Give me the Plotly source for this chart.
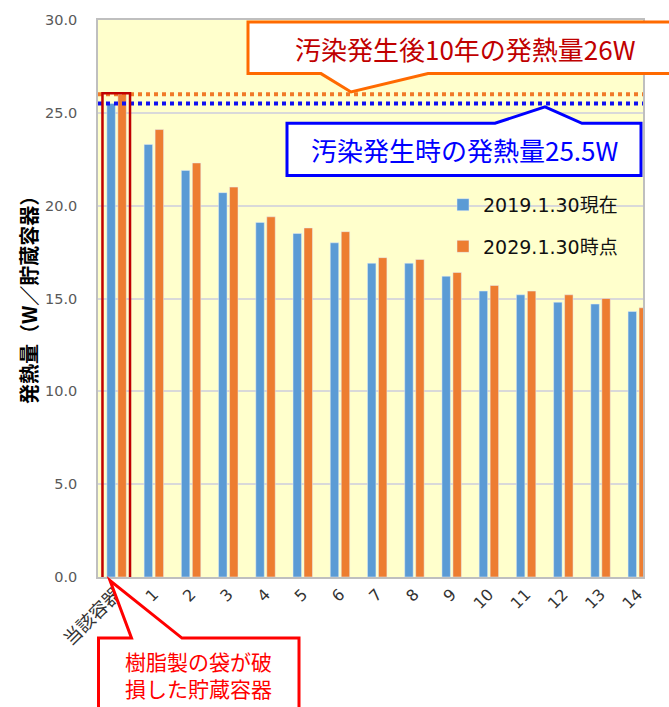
import plotly.graph_objects as go

# ---- data ----
categories = ["当該容器", "1", "2", "3", "4", "5", "6", "7", "8", "9", "10", "11", "12", "13", "14"]
heat_2019 = [25.5, 23.3, 21.9, 20.7, 19.1, 18.5, 18.0, 16.9, 16.9, 16.2, 15.4, 15.2, 14.8, 14.7, 14.3]
heat_2029 = [26.0, 24.1, 22.3, 21.0, 19.4, 18.8, 18.6, 17.2, 17.1, 16.4, 15.7, 15.4, 15.2, 15.0, 14.5]
series_names = ["2019.1.30現在", "2029.1.30時点"]
ref_values = [26.0, 25.5]          # after 10 years / at contamination
ref_labels = ["汚染発生後10年の発熱量26W", "汚染発生時の発熱量25.5W"]
y_ticks = [0, 5, 10, 15, 20, 25, 30]
callout_text = ["樹脂製の袋が破", "損した貯蔵容器"]

# ---- layout geometry (pixels) ----
W, H = 669, 707
L, R, T, B = 98, 643, 16, 577
PW, PH = R - L, B - T
FONT = "Noto Sans CJK JP"
NUMFONT = "DejaVu Sans, Noto Sans CJK JP"


def px(x):
    return (x - L) / PW


def py(y):
    return (B - y) / PH


def path(points):
    s = "M" + " L".join(f"{px(a):.5f},{py(b):.5f}" for a, b in points) + " Z"
    return s


fig = go.Figure()
fig.add_trace(go.Bar(x=categories, y=heat_2019, name=series_names[0],
                     marker=dict(color="#5B9BD5"), legendgroup="a"))
fig.add_trace(go.Bar(x=categories, y=heat_2029, name=series_names[1],
                     marker=dict(color="#ED7D31"), legendgroup="b"))

shapes = []
# reference dotted lines
ref_colors = ["#F07A28", "#1010F0"]
for v, c in zip(ref_values, ref_colors):
    shapes.append(dict(type="line", xref="paper", x0=0, x1=1, yref="y", y0=v, y1=v,
                       line=dict(color=c, width=4, dash="dot"), layer="above"))
# red highlight rectangle around the first category
shapes.append(dict(type="rect", xref="x", yref="y", x0=-0.38, x1=0.36, y0=-0.08, y1=ref_values[0] + 0.05,
                   line=dict(color="#C00000", width=2.5), fillcolor="rgba(0,0,0,0)", layer="above"))
# orange callout
shapes.append(dict(type="path", xref="paper", yref="paper",
                   path=path([(248, 18), (680, 18), (680, 70), (428, 70), (351, 88.5), (321, 70), (248, 70)]),
                   line=dict(color="#FF6A00", width=3), fillcolor="white", layer="above"))
# blue callout
shapes.append(dict(type="path", xref="paper", yref="paper",
                   path=path([(287, 120), (495, 120), (545, 103.5), (582, 120), (641, 120), (641, 172.5), (287, 172.5)]),
                   line=dict(color="#0000FF", width=3), fillcolor="white", layer="above"))
# red callout
shapes.append(dict(type="path", xref="paper", yref="paper",
                   path=path([(98.5, 638.5), (131.5, 638.5), (110, 580.5), (182, 638.5), (299, 638.5), (299, 715), (98.5, 715)]),
                   line=dict(color="#FF0000", width=3), fillcolor="white", layer="above"))

annotations = [
    dict(xref="paper", yref="paper", x=px(465), y=py(45), text=ref_labels[0], showarrow=False,
         font=dict(family=FONT, size=26, color="#C00000"), xanchor="center", yanchor="middle"),
    dict(xref="paper", yref="paper", x=px(465), y=py(146.5), text=ref_labels[1], showarrow=False,
         font=dict(family=FONT, size=26, color="#0000FF"), xanchor="center", yanchor="middle"),
    dict(xref="paper", yref="paper", x=px(198), y=py(675), text="<br>".join(callout_text), showarrow=False,
         font=dict(family=FONT, size=21, color="#FF0000"), xanchor="center", yanchor="middle", align="center"),
    dict(xref="paper", yref="paper", x=px(28), y=py(293), text="<b>発熱量（W／貯蔵容器）</b>", showarrow=False,
         textangle=-90, font=dict(family=FONT, size=20, color="#000000"), xanchor="center", yanchor="middle"),
]

tick_text = [f'<span style="font-size:18px">{c}</span>' if i == 0 else c for i, c in enumerate(categories)]

fig.update_layout(
    width=W, height=H,
    margin=dict(l=L, r=W - R, t=T, b=H - B, pad=0),
    paper_bgcolor="white",
    plot_bgcolor="#FFFFCC",
    barmode="group",
    bargap=0.41,
    bargroupgap=0.23,
    font=dict(family=FONT, color="#595959"),
    shapes=shapes,
    annotations=annotations,
    showlegend=True,
    legend=dict(x=px(443), y=py(183), xanchor="left", yanchor="top",
                bgcolor="rgba(0,0,0,0)", font=dict(family=NUMFONT, size=19, color="#111111"),
                traceorder="grouped", tracegroupgap=14, itemwidth=30),
    xaxis=dict(type="category", range=[-0.5, 14.14], tickangle=-45,
               tickmode="array", tickvals=categories, ticktext=tick_text,
               tickfont=dict(family=NUMFONT, size=16, color="#333333"),
               showline=True, linecolor="#BFBFBF", linewidth=1.5, mirror=True,
               showgrid=False, ticks=""),
    yaxis=dict(range=[0, 30], tickvals=y_ticks, tickformat=".1f",
               tickfont=dict(family=NUMFONT, size=14.5, color="#595959"),
               showline=True, linecolor="#BFBFBF", linewidth=1.5, mirror=True,
               showgrid=True, gridcolor="#D9D9D9", gridwidth=1.5, zeroline=False,
               ticks="", ticklabelstandoff=16),
)

fig.write_html("out.html")
